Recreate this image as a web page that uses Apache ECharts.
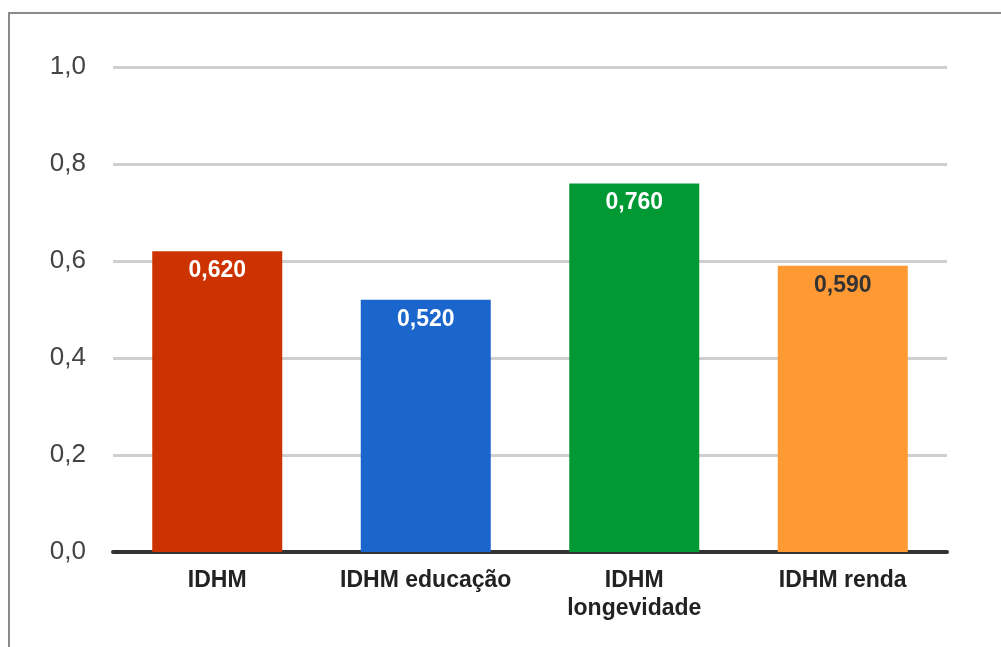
<!DOCTYPE html>
<html>
<head>
<meta charset="utf-8">
<script src="https://cdn.jsdelivr.net/npm/echarts@6/dist/echarts.min.js"></script>
<style>
  html, body { margin: 0; padding: 0; background: #fff; }
  #chart { width: 1001px; height: 647px; }
</style>
</head>
<body>
<div id="chart"></div>
<script>
// IDHM components
const categories = ['IDHM', 'IDHM educação', 'IDHM\nlongevidade', 'IDHM renda'];
const values = [0.620, 0.520, 0.760, 0.590];
const barColors = ['#cc3300', '#1a66cc', '#009933', '#ff9933'];
const labelColors = ['#ffffff', '#ffffff', '#ffffff', '#333333'];
const yTicks = { min: 0, max: 1, interval: 0.2 };

const comma = (v, d) => v.toFixed(d).replace('.', ',');

const chart = echarts.init(document.getElementById('chart'), null, { renderer: 'canvas' });
chart.setOption({
  backgroundColor: '#ffffff',
  animation: false,
  textStyle: { fontFamily: 'Liberation Sans, Arial, sans-serif' },
  graphic: [
    { type: 'line', shape: { x1: 9, y1: 12, x2: 9, y2: 647 }, style: { stroke: '#8a8a8a', lineWidth: 2 } },
    { type: 'line', shape: { x1: 8, y1: 13, x2: 1001, y2: 13 }, style: { stroke: '#8a8a8a', lineWidth: 2 } }
  ],
  grid: { left: 113, right: 54, top: 67, bottom: 95, containLabel: false },
  xAxis: {
    type: 'category',
    data: categories,
    axisTick: { show: false },
    axisLine: { show: true, lineStyle: { color: '#333333', width: 4 } },
    axisLabel: {
      interval: 0,
      hideOverlap: false,
      color: '#222222',
      fontSize: 23,
      fontWeight: 'bold',
      lineHeight: 28,
      margin: 15
    }
  },
  yAxis: {
    type: 'value',
    min: yTicks.min,
    max: yTicks.max,
    interval: yTicks.interval,
    axisLine: { show: false },
    axisTick: { show: false },
    splitLine: { lineStyle: { color: '#cfcfcf', width: 3 } },
    axisLabel: {
      color: '#444444',
      fontSize: 26,
      margin: 27,
      padding: [3, 0, 0, 0],
      formatter: v => comma(v, 1)
    }
  },
  series: [{
    type: 'bar',
    barWidth: 130,
    data: values.map((v, i) => ({
      value: v,
      itemStyle: { color: barColors[i] },
      label: { color: labelColors[i] }
    })),
    label: {
      show: true,
      position: 'insideTop',
      distance: 8,
      fontSize: 23,
      fontWeight: 'bold',
      formatter: p => comma(p.value, 3)
    }
  }]
});
</script>
</body>
</html>
